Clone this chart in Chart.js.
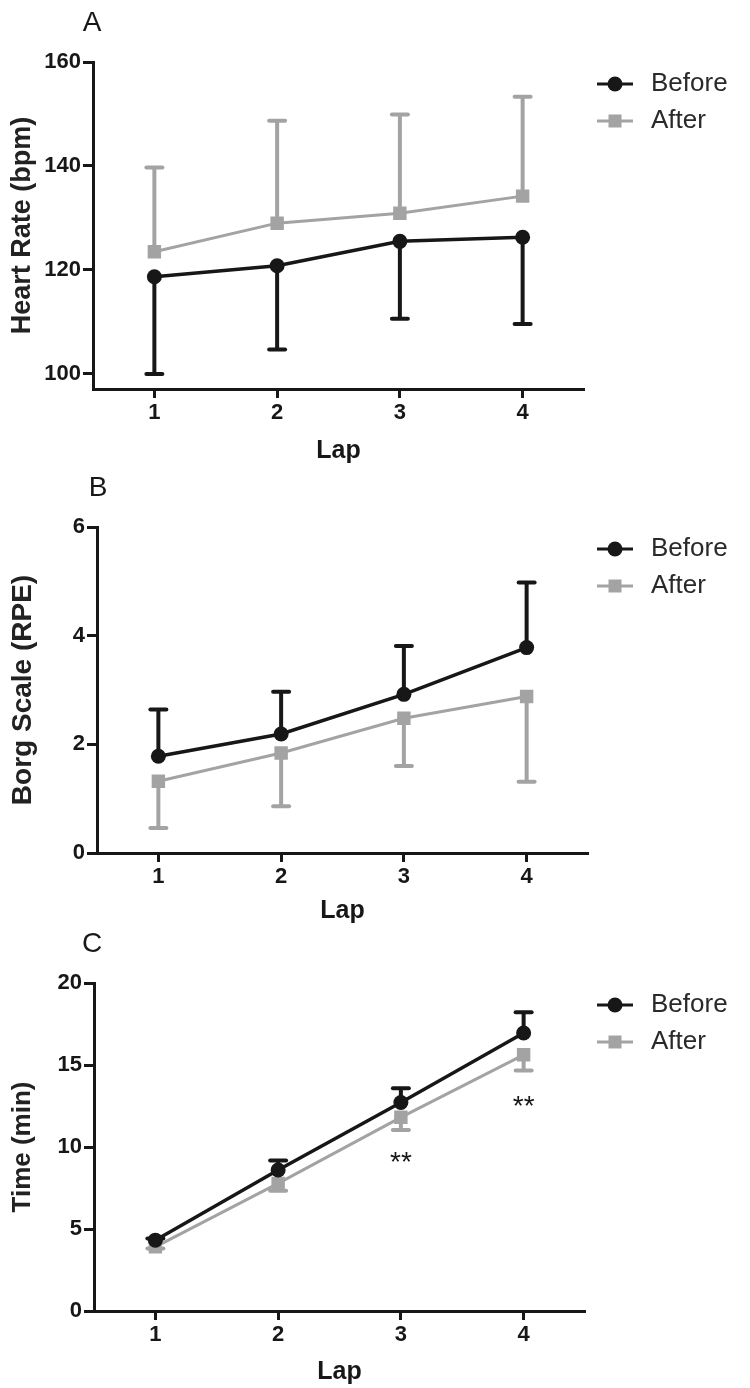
<!DOCTYPE html>
<html lang="en">
<head>
<meta charset="UTF-8">
<title>Heart rate, Borg scale and time per lap</title>
<script src="https://cdn.jsdelivr.net/npm/chart.js"></script>
<style>
  body { margin: 0; background: #fff; width: 750px; height: 1388px; position: relative; overflow: hidden; }
  canvas { position: absolute; left: 0; }
</style>
</head>
<body>
<canvas id="chartA" width="750" height="470" style="top:0px"></canvas>
<canvas id="chartB" width="750" height="470" style="top:460px"></canvas>
<canvas id="chartC" width="750" height="468" style="top:920px"></canvas>
<script>
// dados
const laps = ['1', '2', '3', '4'];
const seriesNames = ['Before', 'After'];

// A - frequencia cardiaca
const hrTicks = [100, 120, 140, 160];
const hrBefore = [118.7, 120.8, 125.5, 126.3];
const hrBeforeSd = [18.7, 16.1, 14.9, 16.7];
const hrAfter = [123.5, 129.0, 130.9, 134.2];
const hrAfterSd = [16.2, 19.7, 19.0, 19.1];

// B - escala de Borg
const borgTicks = [0, 2, 4, 6];
const borgBefore = [1.78, 2.19, 2.92, 3.78];
const borgBeforeSd = [0.86, 0.78, 0.89, 1.20];
const borgAfter = [1.32, 1.84, 2.48, 2.88];
const borgAfterSd = [0.86, 0.98, 0.88, 1.57];

// C - tempo
const timeTicks = [0, 5, 10, 15, 20];
const timeBefore = [4.32, 8.60, 12.71, 16.95];
const timeBeforeSd = [0.1, 0.57, 0.87, 1.26];
const timeAfter = [3.91, 7.78, 11.81, 15.62];
const timeAfterSd = [0.1, 0.45, 0.77, 0.96];
const sigLaps = ['3', '4'];
const sigAt = [9.0, 12.4];

const ink = '#171717';
const gray = '#a3a3a3';
const fam = '"Liberation Sans", Arial, sans-serif';

// barras de erro de um lado so (estilo Prism)
const barrasErro = {
  id: 'barrasErro',
  beforeDatasetsDraw(chart, args, opts) {
    const ctx = chart.ctx;
    const y = chart.scales.y;
    chart.data.datasets.forEach((ds, i) => {
      const meta = chart.getDatasetMeta(i);
      ctx.save();
      ctx.strokeStyle = ds.borderColor;
      meta.data.forEach((pt, j) => {
        const yEnd = y.getPixelForValue(ds.data[j] + opts.dir[i] * opts.sd[i][j]);
        ctx.lineWidth = 4;
        ctx.beginPath();
        ctx.moveTo(pt.x, pt.y);
        ctx.lineTo(pt.x, yEnd);
        ctx.stroke();
        ctx.lineWidth = 4;
        ctx.lineCap = 'round';
        ctx.beginPath();
        ctx.moveTo(pt.x - 8, yEnd);
        ctx.lineTo(pt.x + 8, yEnd);
        ctx.stroke();
        ctx.lineCap = 'butt';
      });
      ctx.restore();
    });
  }
};

// letra do painel, legenda e asteriscos
const enfeites = {
  id: 'enfeites',
  afterDraw(chart, args, opts) {
    const ctx = chart.ctx;
    const area = chart.chartArea;
    ctx.save();
    ctx.fillStyle = ink;
    ctx.font = '28px ' + fam;
    ctx.textAlign = 'center';
    ctx.textBaseline = 'middle';
    ctx.fillText(opts.letter, opts.letterX, area.top - 39);

    chart.data.datasets.forEach((ds, i) => {
      const ly = area.top + 22 + i * 37;
      ctx.strokeStyle = ds.borderColor;
      ctx.fillStyle = ds.borderColor;
      ctx.lineWidth = 3;
      ctx.beginPath();
      ctx.moveTo(597, ly);
      ctx.lineTo(633, ly);
      ctx.stroke();
      ctx.beginPath();
      if (ds.pointStyle === 'rect') {
        ctx.rect(608.5, ly - 6.5, 13, 13);
      } else {
        ctx.arc(615, ly, ds.pointRadius, 0, Math.PI * 2);
      }
      ctx.fill();
      ctx.fillStyle = '#2a2a2a';
      ctx.font = '26px ' + fam;
      ctx.textAlign = 'left';
      ctx.fillText(ds.label, 651, ly);
    });

    if (opts.sig) {
      ctx.fillStyle = ink;
      ctx.font = '28px ' + fam;
      ctx.textAlign = 'center';
      opts.sig.laps.forEach((lap, k) => {
        const px = chart.scales.x.getPixelForValue(laps.indexOf(lap));
        const py = chart.scales.y.getPixelForValue(opts.sig.at[k]);
        ctx.fillText('**', px, py);
      });
    }
    ctx.restore();
  }
};

function makePanel(id, g, p) {
  const tickFont = { family: fam, size: 22, weight: 'bold' };
  return new Chart(document.getElementById(id), {
    type: 'line',
    data: {
      labels: laps,
      datasets: [
        { label: seriesNames[0], data: p.before, borderColor: ink, backgroundColor: ink,
          borderWidth: 3.5, pointStyle: 'circle', pointRadius: 7.5, pointBorderWidth: 0, tension: 0 },
        { label: seriesNames[1], data: p.after, borderColor: gray, backgroundColor: gray,
          borderWidth: 3, pointStyle: 'rect', pointRadius: 9.5, pointBorderWidth: 0, tension: 0 }
      ]
    },
    options: {
      responsive: false,
      animation: false,
      layout: { padding: { left: 0, top: g.areaTop - g.top, right: 750 - g.right, bottom: 0 } },
      plugins: {
        legend: { display: false },
        tooltip: { enabled: false },
        barrasErro: { sd: [p.beforeSd, p.afterSd], dir: p.dir },
        enfeites: { letter: g.letter, letterX: g.letterX, sig: p.sig }
      },
      scales: {
        x: {
          type: 'category',
          offset: true,
          border: { display: true, color: ink, width: 3 },
          grid: { display: true, drawOnChartArea: false, drawTicks: true, tickLength: 9, tickWidth: 3, tickColor: ink, offset: false },
          ticks: { color: ink, font: tickFont, padding: 2, maxRotation: 0 },
          title: { display: true, text: 'Lap', color: ink, font: { family: fam, size: 25, weight: 'bold' },
            padding: { top: 0, bottom: g.height - 15 - (g.lapY - g.top) } },
          afterFit(s) { s.height = g.height - (g.areaBottom - g.top); }
        },
        y: {
          min: p.yMin,
          max: p.yMax,
          afterBuildTicks(s) { s.ticks = p.yTicks.map(v => ({ value: v })); },
          border: { display: true, color: ink, width: 3 },
          grid: { display: true, drawOnChartArea: false, drawTicks: true, tickLength: 10, tickWidth: 3, tickColor: ink },
          ticks: { color: ink, font: tickFont, padding: 2 },
          title: { display: true, text: p.yTitle, color: '#222', font: { family: fam, size: p.titleSize, weight: 'bold' },
            padding: { top: 23 - 0.6 * p.titleSize, bottom: 0 } },
          afterFit(s) { s.width = g.left; }
        }
      }
    },
    plugins: [barrasErro, enfeites]
  });
}

makePanel('chartA',
  { top: 0, height: 470, left: 93, right: 584, areaTop: 62, areaBottom: 389, lapY: 451, letter: 'A', letterX: 92 },
  { before: hrBefore, beforeSd: hrBeforeSd, after: hrAfter, afterSd: hrAfterSd, dir: [-1, 1],
    yMin: 97.1, yMax: 160, yTicks: hrTicks, yTitle: 'Heart Rate (bpm)', titleSize: 27 });

makePanel('chartB',
  { top: 460, height: 470, left: 97, right: 588, areaTop: 527, areaBottom: 853, lapY: 911, letter: 'B', letterX: 98 },
  { before: borgBefore, beforeSd: borgBeforeSd, after: borgAfter, afterSd: borgAfterSd, dir: [1, -1],
    yMin: 0, yMax: 6, yTicks: borgTicks, yTitle: 'Borg Scale (RPE)', titleSize: 28 });

makePanel('chartC',
  { top: 920, height: 468, left: 94, right: 585, areaTop: 983, areaBottom: 1311, lapY: 1372, letter: 'C', letterX: 92 },
  { before: timeBefore, beforeSd: timeBeforeSd, after: timeAfter, afterSd: timeAfterSd, dir: [1, -1],
    yMin: 0, yMax: 20, yTicks: timeTicks, yTitle: 'Time (min)', titleSize: 26,
    sig: { laps: sigLaps, at: sigAt } });
</script>
</body>
</html>
